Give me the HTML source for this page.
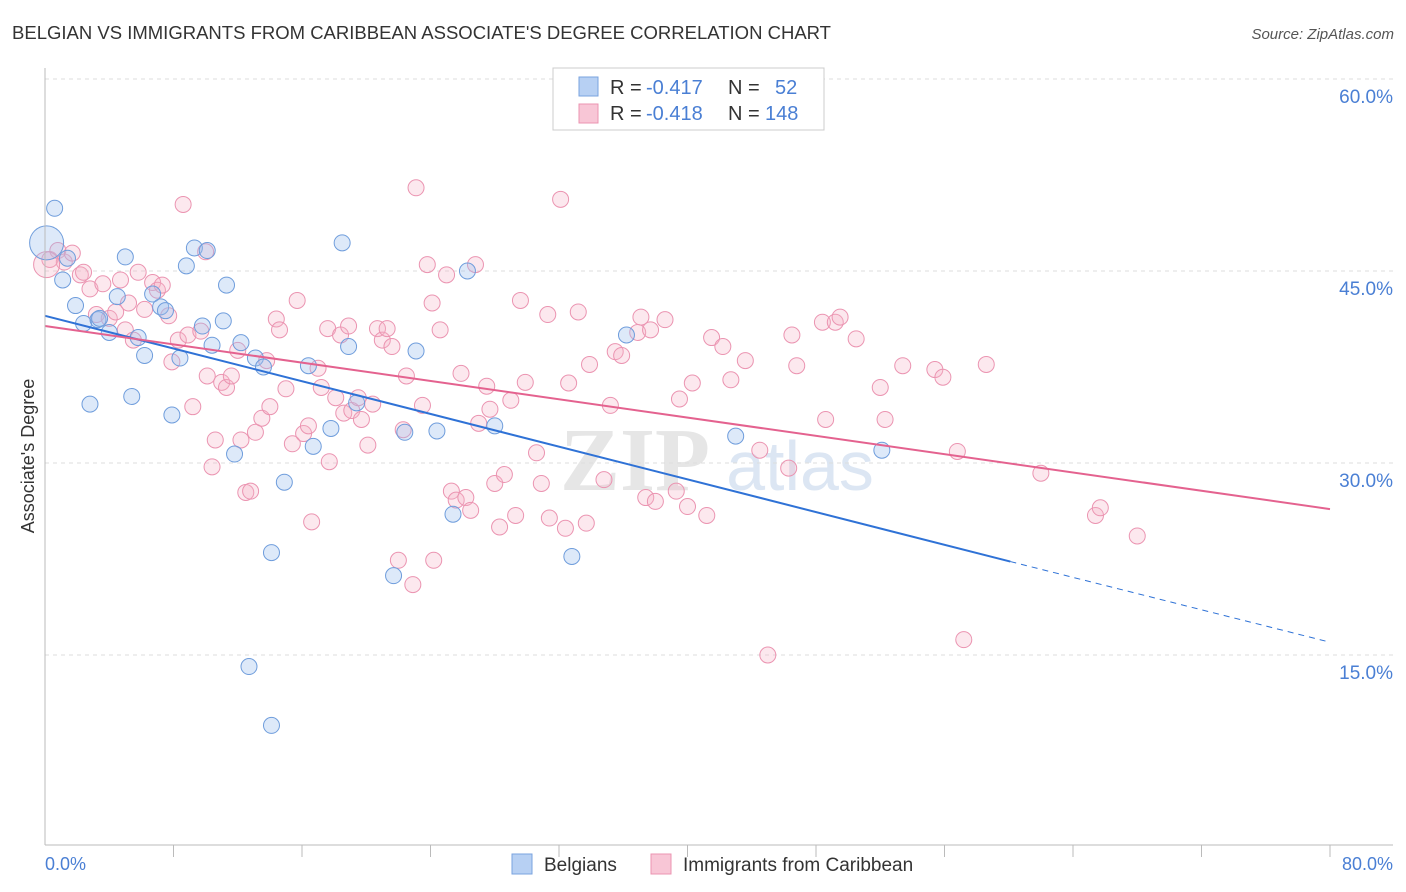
<!DOCTYPE html>
<html><head><meta charset="utf-8">
<style>
body{margin:0;background:#fff;font-family:"Liberation Sans",sans-serif;}
svg{display:block}
</style></head>
<body>
<svg id="chart" width="1406" height="892">
<text x="12" y="39" font-size="18" fill="#333" textLength="819" lengthAdjust="spacingAndGlyphs">BELGIAN VS IMMIGRANTS FROM CARIBBEAN ASSOCIATE'S DEGREE CORRELATION CHART</text>
<text x="1394" y="39" font-size="15" fill="#555" font-style="italic" text-anchor="end">Source: ZipAtlas.com</text>
<text transform="translate(34,456) rotate(-90)" font-size="18" fill="#333" text-anchor="middle">Associate's Degree</text>
<text x="635" y="490" font-size="90" fill="#e6e6e6" font-family="Liberation Serif" font-weight="bold" text-anchor="middle">ZIP</text>
<text x="800" y="490" font-size="70" fill="#dce6f3" text-anchor="middle">atlas</text>
<g id="grid"></g><g id="marks"></g><g id="lines"></g>
<line x1="45" y1="68" x2="45" y2="845" stroke="#bbb"/>
<line x1="45" y1="845" x2="1393" y2="845" stroke="#bbb"/>
<text x="45" y="870" font-size="18" fill="#4a7fd4">0.0%</text>
<text x="1393" y="870" font-size="18" fill="#4a7fd4" text-anchor="end">80.0%</text>
<g>
<rect x="553" y="68" width="271" height="62" fill="#fff" stroke="#ccc"/>
<rect x="579" y="77" width="19" height="19" fill="#b7d0f3" stroke="#7aa3df"/>
<rect x="579" y="104" width="19" height="19" fill="#f8c6d6" stroke="#eb94b1"/>
<text y="94" font-size="20" fill="#333"><tspan x="610">R =</tspan><tspan x="646" fill="#4a7fd4">-0.417</tspan><tspan x="728">N =</tspan><tspan x="775" fill="#4a7fd4">52</tspan></text>
<text y="120" font-size="20" fill="#333"><tspan x="610">R =</tspan><tspan x="646" fill="#4a7fd4">-0.418</tspan><tspan x="728">N =</tspan><tspan x="765" fill="#4a7fd4">148</tspan></text>
</g>
<g>
<rect x="512" y="854" width="20" height="20" fill="#b7d0f3" stroke="#7aa3df"/>
<text x="544" y="871" font-size="19" fill="#333">Belgians</text>
<rect x="651" y="854" width="20" height="20" fill="#f8c6d6" stroke="#eb94b1"/>
<text x="683" y="871" font-size="19" fill="#333">Immigrants from Caribbean</text>
</g>
</svg>
<script>
const yTicks=[15,30,45,60];
const xTickCount=10;
const blueX=[0.6,0.1,1.1,1.4,1.9,2.4,2.8,3.3,4.0,4.5,5.0,5.4,5.8,6.2,6.7,7.2,7.5,7.9,8.4,8.8,9.3,9.8,10.1,10.4,11.1,11.3,11.8,12.2,12.7,13.1,13.6,14.1,14.1,14.9,16.4,16.7,17.8,18.5,18.9,19.4,21.7,22.4,23.1,24.4,25.4,26.3,28.0,32.8,36.2,43.0,52.1,3.4];
const blueY=[49.9,47.2,44.3,46.0,42.3,40.9,34.6,41.2,40.2,43.0,46.1,35.2,39.8,38.4,43.2,42.2,41.9,33.75,38.2,45.4,46.8,40.7,46.6,39.2,41.1,43.9,30.7,39.4,14.1,38.2,37.5,23.0,9.5,28.5,37.6,31.3,32.7,47.2,39.1,34.7,21.2,32.4,38.75,32.5,26.0,45.0,32.9,22.7,40.0,32.1,31.0,41.3];
const pinkX=[0.3,0.8,1.2,1.7,2.2,2.4,2.8,3.2,3.6,4.0,4.4,4.7,5.0,5.2,5.5,5.8,6.2,6.7,7.0,7.3,7.7,7.9,8.3,8.6,8.9,9.2,9.7,10.0,10.1,10.4,10.6,11.0,11.3,11.6,12.0,12.2,12.5,12.8,13.1,13.5,13.8,14.0,14.4,14.6,15.0,15.4,15.7,16.1,16.4,16.6,17.0,17.2,17.6,17.7,18.1,18.4,18.6,18.9,19.1,19.5,19.7,20.1,20.4,20.7,21.0,21.3,21.6,22.0,22.3,22.5,22.9,23.1,23.5,23.8,24.1,24.2,24.6,25.0,25.3,25.6,25.9,26.2,26.5,26.8,27.0,27.5,27.7,28.0,28.3,28.6,29.0,29.3,29.6,29.9,30.6,30.9,31.3,31.4,32.1,32.4,32.6,33.2,33.7,33.9,34.8,35.2,35.5,35.9,36.9,37.1,37.4,37.7,38.0,38.6,39.3,39.5,40.0,40.3,41.2,41.5,42.2,42.7,43.6,44.5,45.0,46.3,46.8,46.5,48.4,48.6,49.2,49.5,50.5,52.0,52.3,53.4,55.4,55.9,56.8,57.2,58.6,62.0,65.4,65.7,68.0,0.1];
const pinkY=[45.9,46.6,45.7,46.4,44.7,44.9,43.6,41.6,44.0,41.3,41.8,44.3,40.4,42.5,39.6,44.9,42.0,44.1,43.5,43.9,41.5,37.9,39.6,50.2,40.0,34.4,40.3,46.5,36.8,29.7,31.8,36.3,35.9,36.8,38.8,31.8,27.7,27.8,32.4,33.5,38.0,34.4,41.25,40.4,35.8,31.5,42.7,32.3,32.9,25.4,37.4,35.9,40.5,30.1,35.1,40.0,33.9,40.7,34.1,35.1,33.4,31.4,34.6,40.5,39.6,40.5,39.1,22.4,32.6,36.8,20.5,51.5,34.5,45.5,42.5,22.4,40.4,44.7,27.8,27.1,37.0,27.3,26.3,45.5,33.1,36.0,34.2,28.4,25.0,29.1,34.9,25.9,42.7,36.3,30.8,28.4,41.6,25.7,50.6,24.9,36.25,41.8,25.3,37.7,28.7,34.5,38.7,38.4,40.2,41.4,27.3,40.4,27.0,41.2,27.8,35.0,26.6,36.25,25.9,39.8,39.1,36.5,38.0,31.0,15.0,29.6,37.6,40.0,41.0,33.4,41.0,41.4,39.7,35.9,33.4,37.6,37.3,36.7,30.9,16.2,37.7,29.2,25.9,26.5,24.3,45.5];
const blueTrend=[41.5,22.3,16.0];
const blueSolidEnd=60.1;
const pinkTrend=[40.7,26.4];
const NS='http://www.w3.org/2000/svg';
const X=v=>45+v/80*1285;
const Y=v=>79+(60-v)*12.8;
function mk(tag,attrs,parent){const e=document.createElementNS(NS,tag);for(const k in attrs)e.setAttribute(k,attrs[k]);parent.appendChild(e);return e;}
const grid=document.getElementById('grid'),marks=document.getElementById('marks'),lines=document.getElementById('lines');
yTicks.forEach(t=>{
  const l=mk('line',{x1:45,x2:1393,y1:Y(t),y2:Y(t),stroke:'#ddd','stroke-dasharray':'4,4'},grid);
  
  
  const tx=mk('text',{x:1393,y:Y(t)+24,'font-size':19,fill:'#4a7fd4','text-anchor':'end'},grid);
  tx.textContent=t.toFixed(1)+'%';
  
  
});
for(let i=1;i<=xTickCount;i++){
  const l=mk('line',{x1:X(i*8),x2:X(i*8),y1:845,y2:857,stroke:'#bbb'},grid);
  
  
}
pinkX.forEach((v,i)=>{
  const big=i===pinkX.length-1;
  const c=mk('circle',{cx:X(v),cy:Y(pinkY[i]),r:big?13:8,fill:'#f4b3c8','fill-opacity':0.3,stroke:'#eb94b1','stroke-width':1},marks);
  
  
});
blueX.forEach((v,i)=>{
  const big=i===1;
  const c=mk('circle',{cx:X(v),cy:Y(blueY[i]),r:big?17:8,fill:'#9dbfee','fill-opacity':0.35,stroke:'#6f9ddc','stroke-width':1},marks);
  
  
});
const b1=mk('line',{x1:X(0),y1:Y(blueTrend[0]),x2:X(blueSolidEnd),y2:Y(blueTrend[1]),stroke:'#2f72d6','stroke-width':2},lines);


const b2=mk('line',{x1:X(blueSolidEnd),y1:Y(blueTrend[1]),x2:X(80),y2:Y(blueTrend[2]),stroke:'#2f72d6','stroke-width':1,'stroke-dasharray':'6,5'},lines);


const p1=mk('line',{x1:X(0),y1:Y(pinkTrend[0]),x2:X(80),y2:Y(pinkTrend[1]),stroke:'#e4628f','stroke-width':2},lines);


</script>
</body></html>
